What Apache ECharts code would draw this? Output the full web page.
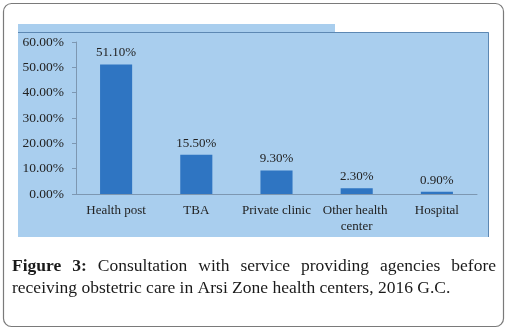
<!DOCTYPE html>
<html>
<head>
<meta charset="utf-8">
<script src="https://cdn.jsdelivr.net/npm/echarts@6/dist/echarts.min.js"></script>
<style>
  html, body { margin: 0; padding: 0; background: #fff; }
  #chart { width: 508px; height: 330px; }
</style>
</head>
<body>
<div id="chart"></div>
<script>
// data
const categories = ['Health post', 'TBA', 'Private clinic', 'Other health center', 'Hospital'];
const shares = [51.1, 15.5, 9.3, 2.3, 0.9];
const captionLine1 = ['Figure', '3:', 'Consultation', 'with', 'service', 'providing', 'agencies', 'before'];
const captionLine2 = 'receiving obstetric care in Arsi Zone health centers, 2016 G.C.';

const serif = '"Liberation Serif", "DejaVu Serif", serif';
const capFont = '17.5px ' + serif;

// justify the first caption line across the box width
const ctx = document.createElement('canvas').getContext('2d');
const capLeft = 12, capRight = 496;
const wordEls = [];
(function () {
  const widths = captionLine1.map((w, i) => {
    ctx.font = (i < 2 ? 'bold ' : '') + capFont;
    return ctx.measureText(w).width;
  });
  const total = widths.reduce((a, b) => a + b, 0);
  const gap = (capRight - capLeft - total) / (captionLine1.length - 1);
  let x = capLeft;
  captionLine1.forEach((w, i) => {
    wordEls.push({
      type: 'text', left: x, top: 257,
      style: { text: w, font: (i < 2 ? 'bold ' : '') + capFont, fill: '#1a1a1a' }
    });
    x += widths[i] + gap;
  });
})();

const chart = echarts.init(document.getElementById('chart'));
chart.setOption({
  animation: false,
  graphic: [
    { type: 'rect', shape: { x: 3.5, y: 3.5, width: 500, height: 323, r: 8 },
      style: { fill: '#fff', stroke: '#7a7a7a', lineWidth: 1.2 }, z: -10 },
    { type: 'rect', shape: { x: 18, y: 24, width: 317, height: 9 },
      style: { fill: '#a9ceee' }, z: -5 },
    { type: 'rect', shape: { x: 18, y: 32, width: 471, height: 205 },
      style: { fill: '#a9ceee' }, z: -5 },
    { type: 'polyline', shape: { points: [[18, 32.5], [488.5, 32.5], [488.5, 237]] },
      style: { stroke: '#5d88b3', lineWidth: 1, fill: null }, z: -4 },
    ...wordEls,
    { type: 'text', left: capLeft, top: 279,
      style: { text: captionLine2, font: capFont, fill: '#1a1a1a' } }
  ],
  grid: { left: 76, right: 31, top: 42, bottom: 136 },
  xAxis: {
    type: 'category',
    data: categories,
    axisLine: { lineStyle: { color: '#7d97b1' } },
    axisTick: { length: 4, lineStyle: { color: '#7d97b1' } },
    axisLabel: {
      interval: 0,
      color: '#222', fontFamily: serif, fontSize: 13, margin: 9,
      width: 80, overflow: 'break', lineHeight: 16
    }
  },
  yAxis: {
    type: 'value', min: 0, max: 60, interval: 10,
    axisLine: { show: true, lineStyle: { color: '#7d97b1' } },
    axisTick: { show: true, length: 4, lineStyle: { color: '#7d97b1' } },
    splitLine: { show: false },
    axisLabel: {
      color: '#222', fontFamily: serif, fontSize: 13.5, margin: 12,
      formatter: v => v.toFixed(2) + '%'
    }
  },
  series: [{
    type: 'bar',
    data: shares,
    barWidth: '40%',
    itemStyle: { color: '#2f75c2' },
    label: {
      show: true, position: 'top', distance: 5,
      color: '#222', fontFamily: serif, fontSize: 13,
      formatter: p => p.value.toFixed(2) + '%'
    }
  }]
});
</script>
</body>
</html>
